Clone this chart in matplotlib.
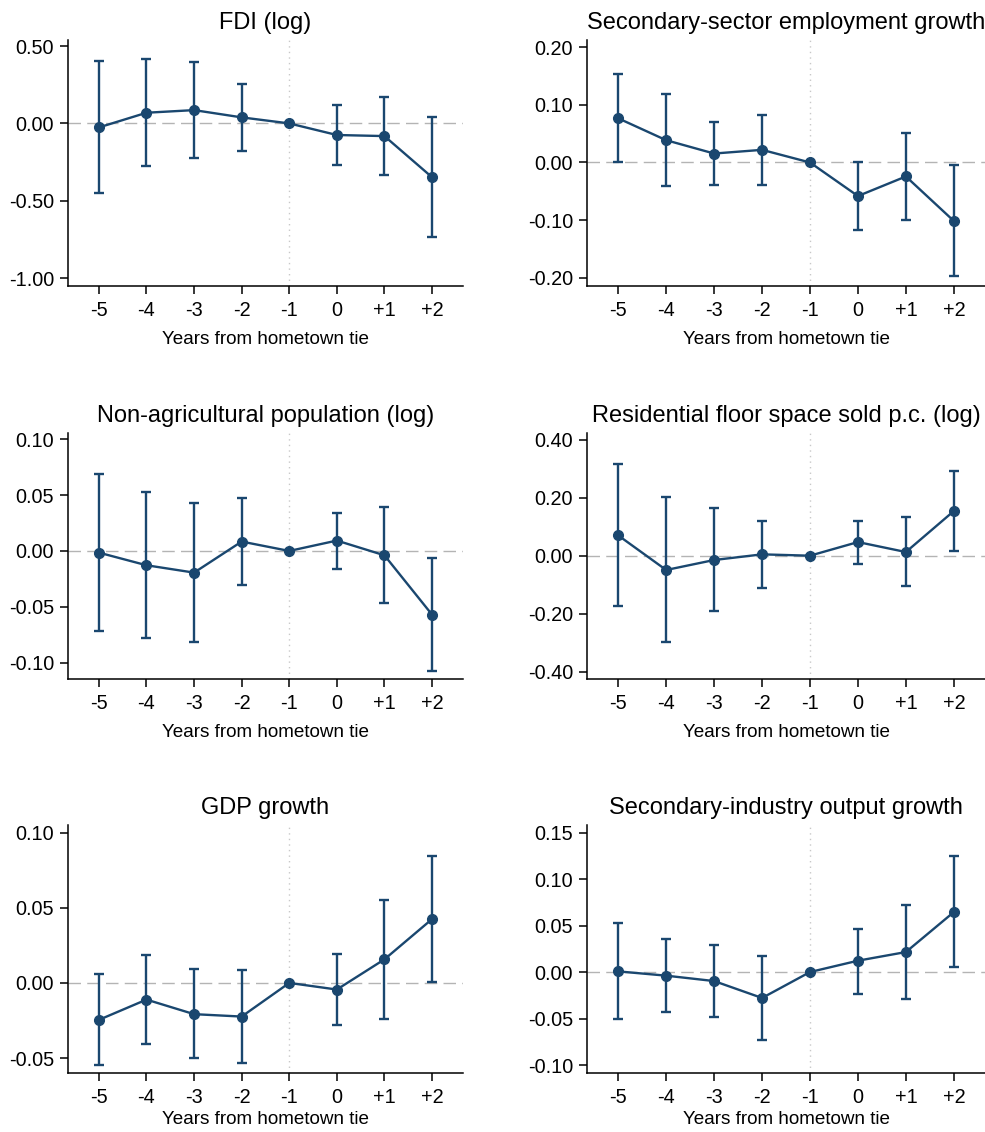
import matplotlib
matplotlib.use("Agg")
import matplotlib.pyplot as plt
from matplotlib.ticker import FormatStrFormatter

plt.rcParams["font.family"] = ["Liberation Sans", "DejaVu Sans"]
plt.rcParams["axes.unicode_minus"] = False

years = [-5, -4, -3, -2, -1, 0, 1, 2]
year_labels = ["-5", "-4", "-3", "-2", "-1", "0", "+1", "+2"]

titles = [
    "FDI (log)",
    "Secondary-sector employment growth",
    "Non-agricultural population (log)",
    "Residential floor space sold p.c. (log)",
    "GDP growth",
    "Secondary-industry output growth",
]

# point estimates and 95% CI bounds
fdi = [-0.026, 0.069, 0.086, 0.039, 0.0, -0.075, -0.082, -0.348]
fdi_lo = [-0.453, -0.273, -0.223, -0.180, 0.0, -0.266, -0.333, -0.735]
fdi_hi = [0.402, 0.415, 0.400, 0.258, 0.0, 0.116, 0.170, 0.043]

emp = [0.0765, 0.0386, 0.0155, 0.0219, 0.0, -0.0581, -0.0242, -0.1013]
emp_lo = [0.0, -0.0414, -0.0386, -0.0397, 0.0, -0.1168, -0.0996, -0.1968]
emp_hi = [0.1537, 0.1186, 0.0702, 0.0829, 0.0, 0.0012, 0.0518, -0.0046]

nonag = [-0.0015, -0.0128, -0.0194, 0.0084, 0.0, 0.0093, -0.0039, -0.0570]
nonag_lo = [-0.0716, -0.0782, -0.0812, -0.0304, 0.0, -0.0158, -0.0466, -0.1078]
nonag_hi = [0.0693, 0.0525, 0.0430, 0.0475, 0.0, 0.0340, 0.0390, -0.0066]

floor = [0.0699, -0.0493, -0.0149, 0.0046, 0.0, 0.0470, 0.0126, 0.1540]
floor_lo = [-0.175, -0.299, -0.191, -0.111, 0.0, -0.0275, -0.105, 0.016]
floor_hi = [0.315, 0.203, 0.165, 0.118, 0.0, 0.121, 0.133, 0.293]

gdp = [-0.0246, -0.0111, -0.0208, -0.0224, 0.0, -0.0044, 0.0157, 0.0425]
gdp_lo = [-0.0547, -0.0408, -0.0503, -0.0532, 0.0, -0.0281, -0.0239, 0.0007]
gdp_hi = [0.0060, 0.0188, 0.0093, 0.0086, 0.0, 0.0193, 0.0552, 0.0846]

ind = [0.0007, -0.0039, -0.0097, -0.0279, 0.0, 0.0122, 0.0215, 0.0645]
ind_lo = [-0.0500, -0.0430, -0.0484, -0.0734, 0.0, -0.0233, -0.0290, 0.0054]
ind_hi = [0.0527, 0.0355, 0.0294, 0.0176, 0.0, 0.0466, 0.0720, 0.1243]

series = [
    (fdi, fdi_lo, fdi_hi),
    (emp, emp_lo, emp_hi),
    (nonag, nonag_lo, nonag_hi),
    (floor, floor_lo, floor_hi),
    (gdp, gdp_lo, gdp_hi),
    (ind, ind_lo, ind_hi),
]

yticks = [
    [0.5, 0.0, -0.5, -1.0],
    [0.2, 0.1, 0.0, -0.1, -0.2],
    [0.1, 0.05, 0.0, -0.05, -0.1],
    [0.4, 0.2, 0.0, -0.2, -0.4],
    [0.1, 0.05, 0.0, -0.05],
    [0.15, 0.1, 0.05, 0.0, -0.05, -0.1],
]
ylims = [
    (-1.052, 0.539),
    (-0.214, 0.212),
    (-0.1146, 0.1056),
    (-0.425, 0.423),
    (-0.060, 0.1051),
    (-0.1086, 0.158),
]

navy = "#1a476f"

# axes rectangles in figure fractions
lefts = [0.069, 0.596]
widths = [0.401, 0.404]
bottoms = [0.7473, 0.4002, 0.0521]
heights = [0.2173, 0.2173, 0.219]

fig = plt.figure(figsize=(9.85, 11.32), dpi=100)

for i, (b, lo, hi) in enumerate(series):
    r, c = divmod(i, 2)
    ax = fig.add_axes([lefts[c], bottoms[r], widths[c], heights[r]])
    yerr = [[bb - l for bb, l in zip(b, lo)], [h - bb for bb, h in zip(b, hi)]]
    ax.axhline(0, color="#b4b4b4", lw=1.0, dashes=(9, 4.5), zorder=1)
    ax.axvline(-1, color="#c8c8c8", lw=1.0, ls=(0, (1, 3)), zorder=1)
    ax.errorbar(years, b, yerr=yerr, fmt="-o", color=navy, ecolor=navy,
                lw=1.7, elinewidth=1.7, capsize=3.5, capthick=1.7,
                markersize=7, zorder=3)
    ax.set_xlim(-5.65, 2.65)
    ax.set_ylim(*ylims[i])
    ax.set_xticks(years)
    ax.set_xticklabels(year_labels)
    ax.set_yticks(yticks[i])
    ax.yaxis.set_major_formatter(FormatStrFormatter("%.2f"))
    ax.spines["top"].set_visible(False)
    ax.spines["right"].set_visible(False)
    for s in ("left", "bottom"):
        ax.spines[s].set_linewidth(1.1)
    ax.tick_params(direction="out", length=6, width=1.1, labelsize=14.3, pad=4)
    ax.tick_params(axis="x", pad=5)
    ax.set_title(titles[i], fontsize=17, pad=8)
    # bottom row label sits tighter so it stays inside the figure
    ax.set_xlabel("Years from hometown tie", fontsize=13.6,
                  labelpad=3 if r == 2 else 8)

plt.savefig("out.png", dpi=100)
